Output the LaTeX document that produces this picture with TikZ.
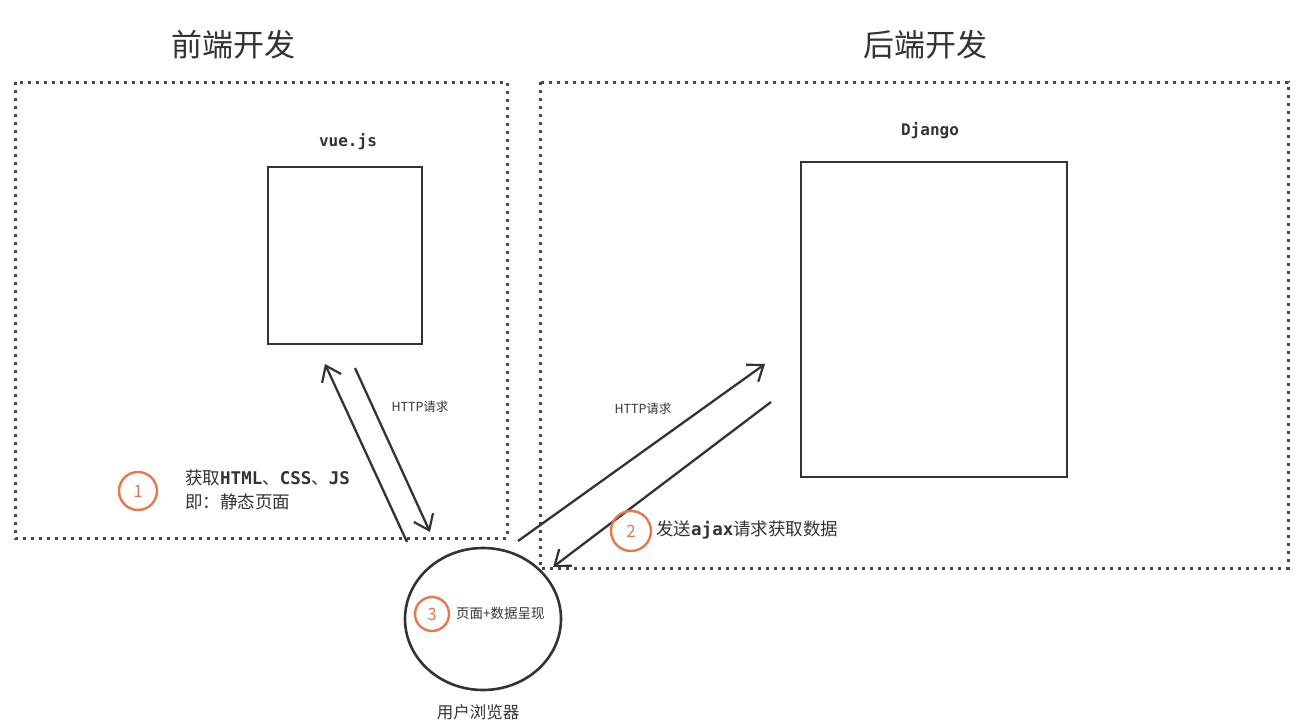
\documentclass[tikz,border=0pt]{standalone}
\usepackage{fontspec}
\setmainfont{Noto Sans CJK SC}
\newfontfamily\codefont{DejaVu Sans Mono}
\usetikzlibrary{arrows.meta,shapes.geometric}
\definecolor{ink}{HTML}{333333}
\definecolor{mark}{HTML}{E5784E}

\begin{document}
\begin{tikzpicture}[x=1pt,y=-1pt,
area/.style={%
draw=ink!90,
line width=3pt,
dash pattern=on 2.8pt off 5.2pt
},
box/.style={%
draw=ink,
line width=2pt,
inner sep=0pt,
anchor=north west
},
flow/.style={%
draw=ink,
line width=2.3pt,
-{Straight Barb[length=14pt,width=21pt,line width=2.2pt]}
},
badge/.style={%
circle,
draw=mark,
line width=2.4pt,
text=mark,
inner sep=0pt,
font=\fontsize{17}{17}\selectfont
},
caption/.style={%
text=ink,
inner sep=0pt,
font=\fontsize{17.5}{22}\selectfont
},
]
\useasboundingbox (0,0) rectangle (1302,728);
%% Areas
\draw[area](15,82) rectangle (507,538);
\draw[area](540,82) rectangle (1288,568);
\node[caption,font=\fontsize{31}{31}\selectfont](front)at(233,45){前端开发};
\node[caption,font=\fontsize{31}{31}\selectfont](back)at(925,45){后端开发};
%% Servers
\node[caption,font=\codefont\bfseries\fontsize{16}{16}\selectfont](vuelbl)at(348,142){vue.js};
\node[box,minimum width=154pt,minimum height=177pt](vue)at(267,166){};
\node[caption,font=\codefont\bfseries\fontsize{16}{16}\selectfont](djlbl)at(930,131){Django};
\node[box,minimum width=266pt,minimum height=315pt](django)at(800,161){};
%% Browser
\node[ellipse,draw=ink,line width=2.6pt,minimum width=156pt,minimum height=142pt](browser)at(483,619){};
\node[caption,font=\fontsize{16.5}{16}\selectfont](brlbl)at(478,712){用户浏览器};
\node[badge,minimum size=34pt](s3)at(432,614){3};
\node[caption,anchor=west,font=\fontsize{13.5}{13}\selectfont](s3txt)at(456,613){页面+数据呈现};
%% Connectors
\coordinate (vueIn) at (325,364);
\coordinate (vueOut) at (355,368);
\coordinate (brOut1) at (407,542);
\coordinate (brIn1) at (430,532);
\coordinate (brOut2) at (518,541);
\coordinate (djIn) at (765,364);
\coordinate (djOut) at (771,402);
\coordinate (brIn2) at (553,567);
\draw[flow](brOut1)--(vueIn);
\draw[flow](vueOut)--(brIn1);
\draw[flow](brOut2)--(djIn);
\draw[flow](djOut)--(brIn2);
\node[caption,font=\fontsize{12.5}{12}\selectfont](req1)at(420,407){HTTP请求};
\node[caption,font=\fontsize{12.5}{12}\selectfont](req2)at(643,409){HTTP请求};
%% Steps
\node[badge,minimum size=38pt](s1)at(138,491){1};
\node[caption,anchor=west](s1a)at(185,478){获取{\codefont\bfseries HTML}、{\codefont\bfseries CSS}、{\codefont\bfseries JS}};
\node[caption,anchor=west](s1b)at(185,502){即：静态页面};
\node[badge,minimum size=40pt](s2)at(631,531){2};
\node[caption,anchor=west](s2txt)at(656,530){发送{\codefont\bfseries ajax}请求获取数据};
\end{tikzpicture}
\end{document}
